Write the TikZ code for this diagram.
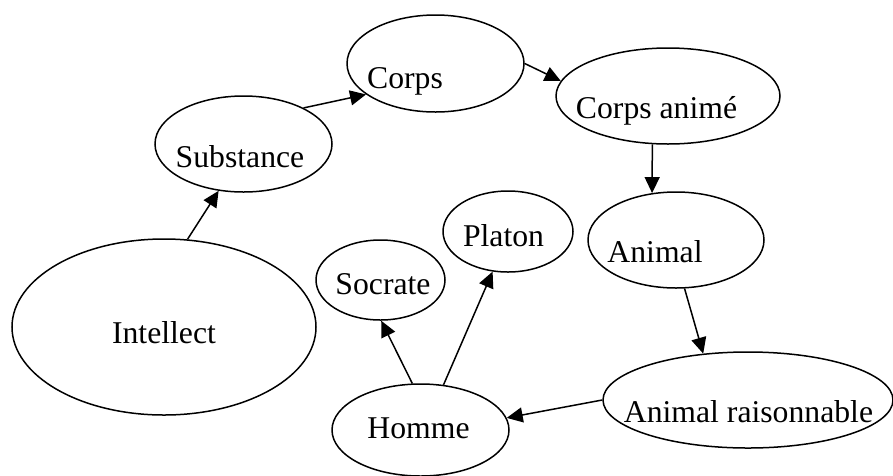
\documentclass[tikz,border=0pt]{standalone}
\usepackage{fontspec}
\setmainfont{Liberation Serif}
\usepackage{tikz}
\usetikzlibrary{shapes, arrows.meta, positioning}

\tikzset{
	bulle/.style={draw, ellipse, line width=1.5pt, inner sep=0pt},
	mot/.style={inner sep=0pt, text height=22pt, text depth=7pt, font=\fontsize{31.7}{38}\selectfont},
	fleche/.style={line width=1.5pt, -{Triangle[length=16pt, width=15pt]}}
}

\begin{document}
\begin{tikzpicture}[x=1pt, y=-1pt]
	\useasboundingbox (0,0) rectangle (893,475);
	
	\node[bulle, minimum width=304pt, minimum height=176pt, label={[mot, shift={(0,8.5)}]center:Intellect}] (intellect) at (164,327) {};
	\node[bulle, minimum width=177pt, minimum height=96pt, label={[mot, shift={(-3.5,15.5)}]center:Substance}] (substance) at (243.5,144) {};
	\node[bulle, minimum width=177pt, minimum height=97pt, label={[mot, shift={(-30.5,17)}]center:Corps}] (corps) at (435.5,63.5) {};
	\node[bulle, minimum width=224pt, minimum height=96pt, label={[mot, shift={(-11.5,14.5)}]center:Corps animé}] (corpsanime) at (668,96) {};
	\node[bulle, minimum width=176pt, minimum height=96pt, label={[mot, shift={(-21,14.5)}]center:Animal}] (animal) at (676,240) {};
	\node[bulle, minimum width=290pt, minimum height=96pt, label={[mot, shift={(0.5,14.5)}]center:Animal raisonnable}] (raisonnable) at (748,400) {};
	\node[bulle, minimum width=177pt, minimum height=92pt, label={[mot, shift={(-2,0.5)}]center:Homme}] (homme) at (420.5,430) {};
	\node[bulle, minimum width=129pt, minimum height=80pt, label={[mot, shift={(2.5,6.5)}]center:Socrate}] (socrate) at (380.5,280) {};
	\node[bulle, minimum width=130pt, minimum height=81pt, label={[mot, shift={(-4.5,7)}]center:Platon}] (platon) at (508,231.5) {};
	
	\foreach \a/\b in {intellect.75/substance.242, substance.31/corps.204, corps.0/corpsanime.172,
		corpsanime.252/animal.117, animal.280/raisonnable.134, raisonnable.180/homme.8,
		homme.63/platon.249, homme.100/socrate.271}
	\draw[fleche] (\a) -- (\b);
\end{tikzpicture}
\end{document}
